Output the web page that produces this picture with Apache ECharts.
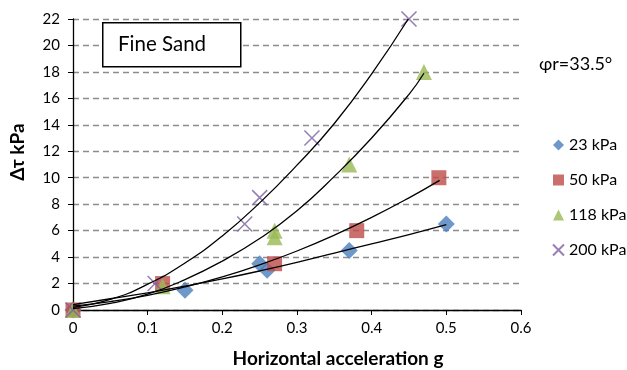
<!DOCTYPE html>
<html>
<head>
<meta charset="utf-8">
<script src="https://cdn.jsdelivr.net/npm/echarts@6/dist/echarts.min.js"></script>
<style>
  html, body { margin: 0; padding: 0; background: #fff; }
  #chart { width: 627px; height: 370px; }
</style>
</head>
<body>
<div id="chart"></div>
<script>
// measured points, [g, kPa]
const pts23 = [[0, 0], [0.15, 1.5], [0.25, 3.5], [0.26, 3.0], [0.37, 4.5], [0.5, 6.5]];
const pts50 = [[0, 0], [0.12, 2], [0.27, 3.5], [0.38, 6], [0.49, 10]];
const pts118 = [[0, 0], [0.12, 1.8], [0.27, 5.5], [0.27, 6], [0.37, 11], [0.47, 18]];
const pts200 = [[0, 0], [0.11, 2], [0.23, 6.5], [0.25, 8.5], [0.32, 13], [0.45, 22]];

// trendlines
const trendX23 = [0, 0.05, 0.1, 0.15, 0.2, 0.25, 0.3, 0.35, 0.4, 0.45, 0.5];
const trendY23 = [0.4, 0.85, 1.3, 1.8, 2.35, 2.95, 3.6, 4.3, 5.0, 5.7, 6.45];
const trendX50 = [0, 0.05, 0.1, 0.15, 0.2, 0.25, 0.3, 0.35, 0.4, 0.45, 0.491];
const trendY50 = [0.3, 0.64, 1.11, 1.74, 2.5, 3.41, 4.46, 5.66, 7.0, 8.48, 9.8];
const trendX118 = [0, 0.05, 0.1, 0.15, 0.2, 0.25, 0.3, 0.35, 0.4, 0.45, 0.47];
const trendY118 = [0.1, 0.5, 1.2, 2.3, 3.7, 5.4, 7.5, 10.1, 13.0, 16.3, 17.9];
const trendX200 = [0, 0.05, 0.1, 0.15, 0.2, 0.25, 0.3, 0.35, 0.4, 0.449];
const trendY200 = [0.2, 0.8, 1.95, 3.55, 5.6, 8.1, 10.95, 14.1, 17.85, 22];

const names = ["23 kPa", "50 kPa", "118 kPa", "200 kPa"];
const colors = ["#4A7EBB", "#BE4B48", "#98B954", "#7D60A0"];

const font = "Lato, 'Open Sans', sans-serif";

function zip(xs, ys) {
  return xs.map((x, i) => [x, ys[i]]);
}

function trend(xs, ys) {
  return {
    type: "line",
    data: zip(xs, ys),
    smooth: true,
    showSymbol: false,
    silent: true,
    z: 5,
    lineStyle: { color: "#000", width: 1.3 },
    itemStyle: { color: "#000" }
  };
}

let myChart = echarts.init(document.getElementById("chart"), null, { renderer: "canvas" });
let option = {
  backgroundColor: "#fff",
  animation: false,
  textStyle: { fontFamily: font },
  grid: { left: 73, right: 106, top: 19, bottom: 60 },
  legend: {
    orient: "vertical",
    left: 552,
    top: 137,
    padding: 0,
    itemGap: 19,
    itemWidth: 11,
    itemHeight: 11,
    textStyle: { fontSize: 16, color: "#000", fontFamily: font },
    data: names
  },
  xAxis: {
    type: "value",
    min: 0,
    max: 0.6,
    interval: 0.1,
    axisLine: { lineStyle: { color: "#000", width: 1.3 } },
    axisTick: { show: true, length: 5, lineStyle: { color: "#000" } },
    axisLabel: { fontSize: 15, color: "#000", margin: 11 },
    splitLine: { show: false }
  },
  yAxis: {
    type: "value",
    min: 0,
    max: 22,
    interval: 2,
    axisLine: { show: true, lineStyle: { color: "#000", width: 1.3 } },
    axisTick: { show: true, length: 5, lineStyle: { color: "#000" } },
    axisLabel: { fontSize: 15, color: "#000", margin: 13 },
    splitLine: { show: true, lineStyle: { color: "#8C8C8C", type: [6, 4], width: 1.3 } }
  },
  graphic: [
    {
      type: "rect",
      left: 102,
      top: 22,
      shape: { width: 138, height: 44 },
      style: { fill: "#fff", stroke: "#000", lineWidth: 1.5 },
      z: 10
    },
    {
      type: "text",
      x: 118,
      y: 44,
      style: { text: "Fine Sand", fontSize: 20.5, fill: "#000", fontFamily: font, verticalAlign: "middle" },
      z: 11
    },
    {
      type: "text",
      x: 539,
      y: 64,
      style: { text: "φr=33.5°", fontSize: 18, fill: "#000", fontFamily: font, verticalAlign: "middle" },
      z: 11
    },
    {
      type: "text",
      x: 338,
      y: 359,
      style: {
        text: "Horizontal acceleration g", fontSize: 19, fontWeight: "bold", fill: "#000",
        fontFamily: font, align: "center", verticalAlign: "middle"
      }
    },
    {
      type: "text",
      x: 18,
      y: 152,
      rotation: Math.PI / 2,
      style: {
        text: "Δτ kPa", fontSize: 19, fontWeight: "bold", fill: "#000",
        fontFamily: font, align: "center", verticalAlign: "middle"
      }
    }
  ],
  series: [
    {
      name: names[0], type: "scatter", data: pts23, symbol: "diamond", symbolSize: 17,
      itemStyle: { color: colors[0] }
    },
    {
      name: names[1], type: "scatter", data: pts50, symbol: "rect", symbolSize: 15,
      itemStyle: { color: colors[1] }
    },
    {
      name: names[2], type: "scatter", data: pts118, symbol: "triangle", symbolSize: 16,
      itemStyle: { color: colors[2] }
    },
    {
      name: names[3], type: "scatter", data: pts200,
      symbol: "path://M0,0L10,10M10,0L0,10", symbolSize: 15,
      itemStyle: { color: "rgba(0,0,0,0)", borderColor: colors[3], borderWidth: 1.6 }
    },
    trend(trendX23, trendY23),
    trend(trendX50, trendY50),
    trend(trendX118, trendY118),
    trend(trendX200, trendY200)
  ]
};
myChart.setOption(option);
</script>
</body>
</html>
